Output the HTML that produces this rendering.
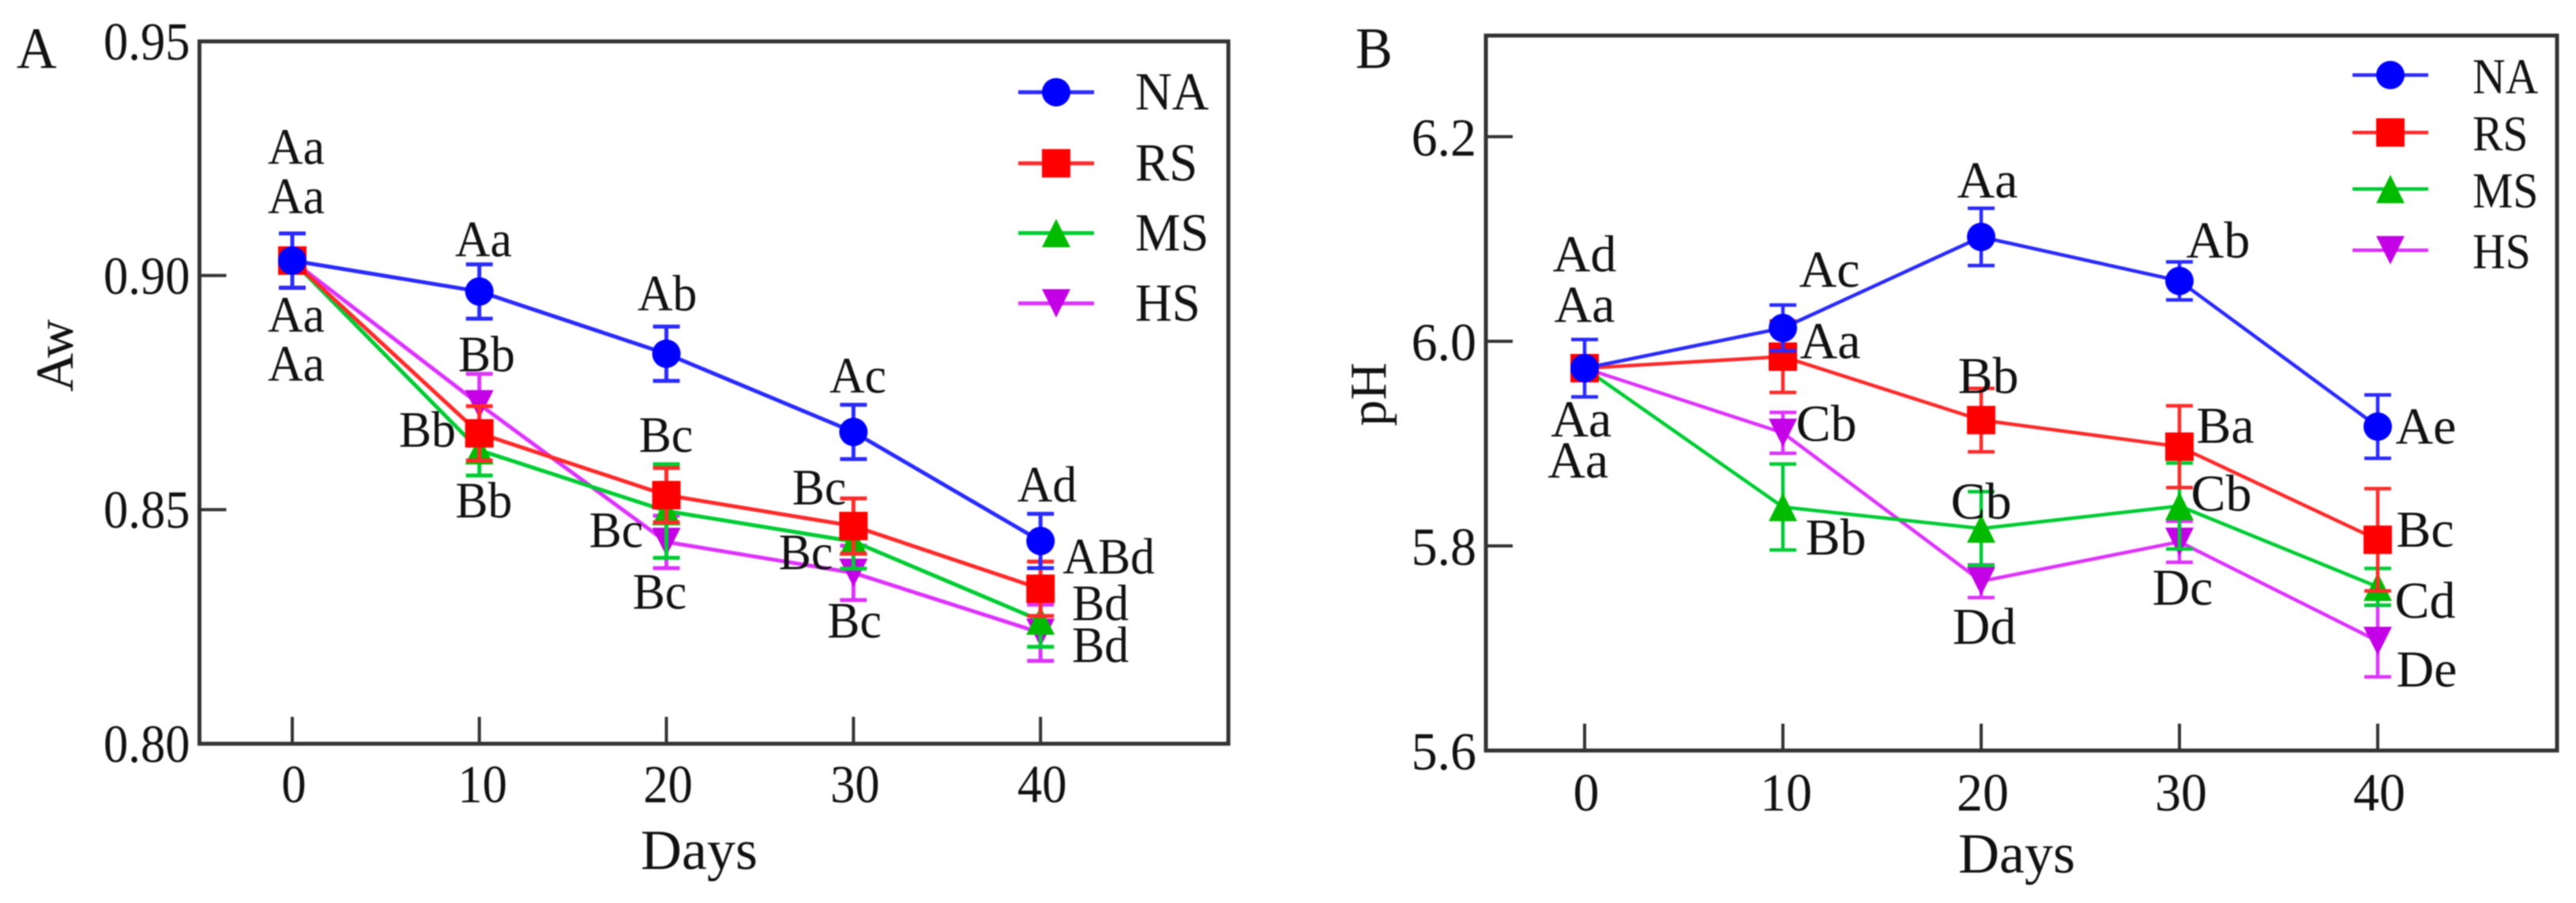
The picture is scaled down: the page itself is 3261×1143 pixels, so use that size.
<!DOCTYPE html>
<html lang="en">
<head>
<meta charset="utf-8">
<title>Aw and pH during storage</title>
<style>
html,body{margin:0;padding:0;background:#fff;}
svg{display:block;filter:blur(0.9px);}
text{font-family:"Liberation Serif","Times New Roman",serif;fill:#111;}
</style>
</head>
<body>
<svg id="chart" xmlns="http://www.w3.org/2000/svg" width="3261" height="1143" viewBox="0 0 3261 1143"></svg>
<script>
// ---- shared categories ----
const days = [0, 10, 20, 30, 40];
const seriesNames = ["NA", "RS", "MS", "HS"];

// ---- Panel A: water activity ----
const awTickLabels = ["0.80", "0.85", "0.90", "0.95"];
const awNA = [0.9032, 0.8966, 0.8833, 0.8666, 0.8433];
const awRS = [0.9032, 0.8663, 0.8531, 0.8465, 0.8331];
const awMS = [0.9032, 0.8627, 0.8497, 0.8432, 0.8263];
const awHS = [0.9032, 0.8725, 0.8431, 0.8365, 0.8237];
const awNAErr = [0.0058, 0.0058, 0.0058, 0.0058, 0.0058];
const awRSErr = [0.0058, 0.0058, 0.0058, 0.0059, 0.0058];
const awMSErr = [0.0058, 0.0054, 0.0100, 0.0058, 0.0056];
const awHSErr = [0.0058, 0.0065, 0.0056, 0.0058, 0.0060];
const awNALetters = ["Aa", "Aa", "Ab", "Ac", "Ad"];
const awRSLetters = ["Aa", "Bb", "Bc", "Bc", "ABd"];
const awMSLetters = ["Aa", "Bb", "Bc", "Bc", "Bd"];
const awHSLetters = ["Aa", "Bb", "Bc", "Bc", "Bd"];

// ---- Panel B: pH ----
const phTickLabels = ["5.6", "5.8", "6.0", "6.2"];
const phNA = [5.9737, 6.013, 6.102, 6.059, 5.9166];
const phRS = [5.9737, 5.985, 5.923, 5.897, 5.806];
const phMS = [5.9737, 5.838, 5.817, 5.839, 5.760];
const phHS = [5.9737, 5.9105, 5.7655, 5.804, 5.707];
const phNAErr = [0.028, 0.0224, 0.028, 0.0186, 0.031];
const phRSErr = [0.012, 0.035, 0.031, 0.040, 0.050];
const phMSErr = [0.012, 0.042, 0.036, 0.042, 0.018];
const phHSErr = [0.012, 0.020, 0.016, 0.020, 0.035];
const phNALetters = ["Ad", "Ac", "Aa", "Ab", "Ae"];
const phRSLetters = ["Aa", "Aa", "Bb", "Ba", "Bc"];
const phMSLetters = ["Aa", "Bb", "Cb", "Cb", "Cd"];
const phHSLetters = ["Aa", "Cb", "Dd", "Dc", "De"];

// ---- layout only: where each letter sits relative to its mark ----
const layoutA = {
  NA: [[5,-122.2],[5.2,-44.4],[1.1,-54.8],[5.6,-49.7],[8.3,-49.8]],
  RS: [[5,-59.8],[-65.8,17.1],[-0.6,-54.7],[-43.4,-27.3],[86.4,-19.2]],
  MS: [[5,90.2],[5.7,85.2],[-63.6,45.7],[-60.4,35.1],[75.8,-0.5]],
  HS: [[5,152.2],[9.2,-41.8],[-8.6,84.5],[1.2,81.9],[75.8,37]]
};
const layoutB = {
  NA: [[0,-122.4],[59,-52.2],[8,-49.9],[49,-29.6],[61,21.5]],
  RS: [[0,-58.5],[60,2.1],[9,-34],[58,-4.8],[60,8.8]],
  MS: [[-4.3,86.5],[67,60],[0,-12.5],[53,6.2],[60,39.2]],
  HS: [[-8.3,138.5],[55,10],[4,79.3],[4,79.8],[62,57.6]]
};

const lineColor = {NA:"#2a2aff", RS:"#ff2a2a", MS:"#00cc33", HS:"#dd33ff"};
const markColor = {NA:"#0000ff", RS:"#ff0000", MS:"#00bb00", HS:"#c400e6"};

const NS = "http://www.w3.org/2000/svg";
const root = document.getElementById("chart");

function mk(tag, attrs, parent) {
  const el = document.createElementNS(NS, tag);
  for (const k in attrs) el.setAttribute(k, attrs[k]);
  parent.appendChild(el);
  return el;
}
function label(parent, str, x, y, size, sx, anchor) {
  const t = mk("text", {
    transform: "translate(" + x + " " + y + ") scale(" + sx + " 1)",
    "font-size": size,
    "text-anchor": anchor
  }, parent);
  t.textContent = str;
  return t;
}
function drawMarker(parent, name, x, y) {
  let m;
  const c = markColor[name];
  if (name === "NA") m = mk("circle", {cx:x, cy:y, r:18, fill:c}, parent);
  else if (name === "RS") m = mk("rect", {x:x-18, y:y-18, width:36, height:36, fill:c}, parent);
  else if (name === "MS") m = mk("polygon", {points:(x)+","+(y-18)+" "+(x+18)+","+(y+18)+" "+(x-18)+","+(y+18), fill:c}, parent);
  else m = mk("polygon", {points:(x-18)+","+(y-18)+" "+(x+18)+","+(y-18)+" "+(x)+","+(y+18), fill:c}, parent);
  return m;
}

function drawPanel(p) {
  const g = mk("g", {}, root);
  
  

  const xOf = d => p.x0 + d * p.xPerDay;
  const yOf = v => p.bottom - (v - p.yMin) * p.yPerUnit;

  // frame
  const frame = mk("rect", {x:p.left, y:p.top, width:p.right-p.left, height:p.bottom-p.top, fill:"none", stroke:"#333", "stroke-width":5}, g);
  
  

  // y ticks
  p.yTicks.forEach(lbl => {
    const yy = yOf(parseFloat(lbl));
    const tick = mk("line", {x1:p.left, x2:p.left+34, y1:yy, y2:yy, stroke:"#333", "stroke-width":4}, g);
    
    
    const t = label(g, lbl, p.left-12, yy+p.yLabelDy, 68, p.tickSx, "end");
    
    
  });

  // x ticks
  days.forEach(d => {
    const xx = xOf(d);
    const tick = mk("line", {x1:xx, x2:xx, y1:p.bottom, y2:p.bottom-34, stroke:"#333", "stroke-width":4}, g);
    
    
    const t = label(g, String(d), xx+2+(d === 10 ? 2 : 0), p.xLabelY, 68, p.tickSx, "middle");
    
    
  });

  // series (HS first, NA on top)
  for (let s = p.series.length - 1; s >= 0; s--) {
    const ser = p.series[s];
    const sg = mk("g", {}, g);
    
    

    const pts = days.map((d, i) => xOf(d) + "," + yOf(ser.values[i])).join(" ");
    const line = mk("polyline", {points:pts, fill:"none", stroke:lineColor[ser.name], "stroke-width":p.lineWidth, "stroke-linejoin":"round"}, sg);
    
    

    days.forEach((d, i) => {
      const xx = xOf(d), hi = yOf(ser.values[i] + ser.err[i]), lo = yOf(ser.values[i] - ser.err[i]);
      const bar = mk("path", {
        d: "M"+xx+" "+hi+"V"+lo+"M"+(xx-17)+" "+hi+"H"+(xx+17)+"M"+(xx-17)+" "+lo+"H"+(xx+17),
        fill:"none", stroke:lineColor[ser.name], "stroke-width":p.lineWidth
      }, sg);
      
      
      const m = drawMarker(sg, ser.name, xx, yOf(ser.values[i]));
      
      
    });
  }

  // significance letters on top of marks
  p.series.forEach(ser => {
    days.forEach((d, i) => {
      const off = p.layout[ser.name][i];
      const t = label(g, ser.letters[i], xOf(d)+off[0], yOf(ser.values[i])+off[1], p.letterSize, p.letterSx, "middle");
      
      
    });
  });

  // legend
  seriesNames.forEach((n, i) => {
    const ly = p.legendY[i];
    const lg = mk("g", {}, g);
    
    
    mk("line", {x1:p.legendX-48, x2:p.legendX+48, y1:ly, y2:ly, stroke:lineColor[n], "stroke-width":p.lineWidth}, lg);
    drawMarker(lg, n, p.legendX, ly);
    label(lg, n, p.legendTextX, ly+p.legendDy, p.legendSize, p.legendSx, "start");
  });

  // axis titles and panel letter
  const xt = label(g, "Days", p.xTitleX, p.xTitleY, 72, 1, "middle");
  
  

  const yt = mk("text", {
    transform:"translate(" + p.yTitleX + " " + p.yTitleY + ") rotate(-90)",
    "font-size":p.yTitleSize, "text-anchor":"middle"
  }, g);
  yt.textContent = p.yTitle;
  
  

  const pl = label(g, p.panelLetter, p.panelLetterX, 86, 74, 0.95, "start");
  
  
}

drawPanel({
  id:"aw", panelLetter:"A", panelLetterX:21, yTitle:"Aw", yTitleX:92, yTitleY:450, yTitleSize:68, lineWidth:5,
  left:252.5, right:1555, top:52.4, bottom:941.4,
  x0:370, xPerDay:23.68, yMin:0.80, yPerUnit:5926,
  yTicks:awTickLabels, yLabelDy:23, xLabelY:1015.6, tickSx:0.92,
  xTitleX:885, xTitleY:1100,
  letterSize:65, letterSx:0.95, layout:layoutA,
  legendX:1337, legendTextX:1437, legendY:[116.7,206.7,295,384], legendDy:22, legendSize:68, legendSx:0.95,
  series:[
    {name:"NA", values:awNA, err:awNAErr, letters:awNALetters},
    {name:"RS", values:awRS, err:awRSErr, letters:awRSLetters},
    {name:"MS", values:awMS, err:awMSErr, letters:awMSLetters},
    {name:"HS", values:awHS, err:awHSErr, letters:awHSLetters}
  ]
});

drawPanel({
  id:"ph", panelLetter:"B", panelLetterX:1716, yTitle:"pH", yTitleX:1754, yTitleY:499, yTitleSize:66, lineWidth:4.5,
  left:1881, right:3237, top:45, bottom:950,
  x0:2006, xPerDay:25.1, yMin:5.6, yPerUnit:1295,
  yTicks:phTickLabels, yLabelDy:24, xLabelY:1026, tickSx:0.97,
  xTitleX:2553, xTitleY:1104.5,
  letterSize:66, letterSx:1, layout:layoutB,
  legendX:3026, legendTextX:3130, legendY:[95,167.7,239.3,316.7], legendDy:23, legendSize:64, legendSx:0.9,
  series:[
    {name:"NA", values:phNA, err:phNAErr, letters:phNALetters},
    {name:"RS", values:phRS, err:phRSErr, letters:phRSLetters},
    {name:"MS", values:phMS, err:phMSErr, letters:phMSLetters},
    {name:"HS", values:phHS, err:phHSErr, letters:phHSLetters}
  ]
});
</script>
</body>
</html>
